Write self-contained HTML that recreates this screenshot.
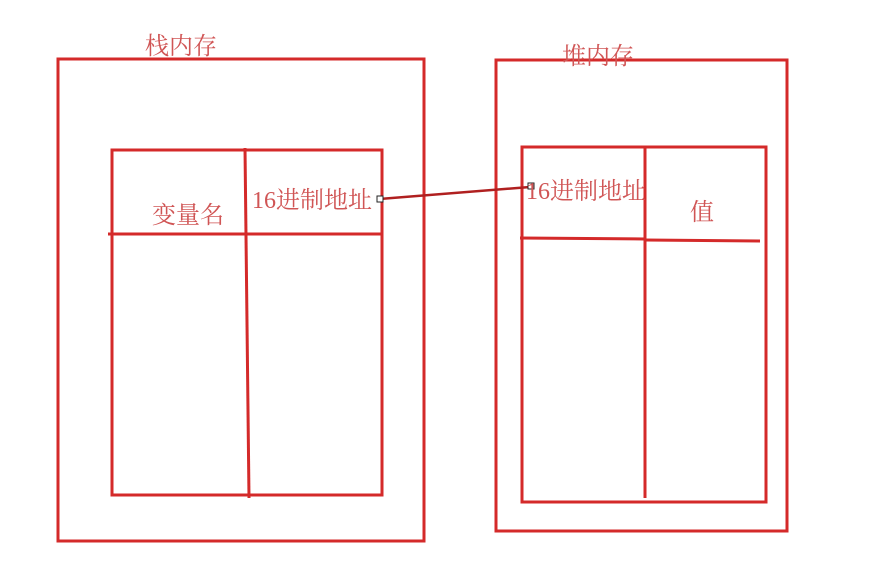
<!DOCTYPE html>
<html><head><meta charset="utf-8"><style>
body{margin:0;background:#fff;}
svg{display:block}
text{font-family:"Liberation Serif","Noto Serif CJK SC","Noto Sans CJK SC",serif;fill:#d05555;font-size:24px}
</style></head><body>
<svg width="881" height="572" viewBox="0 0 881 572">
<g stroke="#d42a2a" stroke-width="3" fill="none">
<rect x="58" y="59" width="366" height="482"/>
<rect x="112" y="150" width="270" height="345"/>
<line x1="245" y1="148" x2="249" y2="498"/>
<line x1="108" y1="234" x2="382" y2="234"/>
<rect x="496" y="60" width="291" height="471"/>
<rect x="522" y="147" width="244" height="355"/>
<line x1="645" y1="147" x2="645" y2="498"/>
<line x1="520" y1="238" x2="645" y2="239"/>
<line x1="645" y1="240" x2="760" y2="241"/>
</g>
<line x1="380" y1="199" x2="530" y2="187" stroke="#b02020" stroke-width="2.5"/>
<rect x="377" y="196" width="6" height="6" fill="#fff" stroke="#222" stroke-width="1"/>
<rect x="528" y="183" width="6" height="6" fill="#fff" stroke="#222" stroke-width="1"/>
<text x="145" y="54">栈内存</text>
<text x="562" y="64">堆内存</text>
<text x="152" y="223">变量名</text>
<text x="252" y="208">16进制地址</text>
<text x="526" y="199">16进制地址</text>
<text x="690" y="220">值</text>
</svg>
</body></html>
